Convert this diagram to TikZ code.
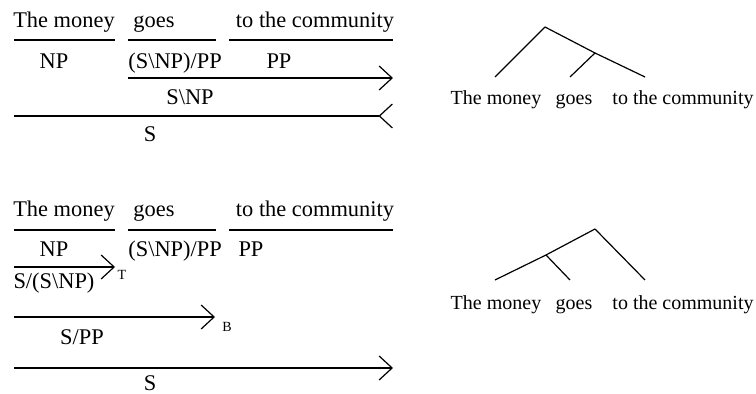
\documentclass[tikz,border=0pt]{standalone}
\usepackage{fontspec}
\setmainfont{Liberation Serif}
\usetikzlibrary{arrows.meta}
\tikzset{
  lex/.style={inner sep=0pt,font=\fontsize{11.2}{13}\selectfont},
  rul/.style={line width=0.6pt},
  fapp/.style={rul,-{Straight Barb[length=6.5pt,width=12pt]}},
  bapp/.style={rul,-{Straight Barb[reversed,length=6.5pt,width=12pt]}},
  comb/.style={inner sep=0pt,font=\fontsize{7}{8}\selectfont},
  leaf/.style={inner sep=0pt,anchor=base,font=\fontsize{10}{12}\selectfont},
  branch/.style={line width=0.6pt}
}
\begin{document}
\begin{tikzpicture}[x=0.5pt,y=-0.5pt]
\useasboundingbox (0,0) rectangle (756,394);
% first derivation: application only
\node[lex,anchor=base] (themoney1) at (64,28) {The money};
\node[lex,anchor=base] (goes1) at (154,28) {goes};
\node[lex,anchor=base] (tothecomm1) at (315,28) {to the community};
\coordinate (r1a) at (14,40); \coordinate (r1b) at (115,40);
\coordinate (r1c) at (128,40); \coordinate (r1d) at (216,40);
\coordinate (r1e) at (229,40); \coordinate (r1f) at (393,40);
\node[lex,anchor=base] (np1) at (54,69) {NP};
\node[lex,anchor=base west] (goescat1) at (128,69) {(S\textbackslash NP)/PP};
\node[lex,anchor=base] (pp1) at (279,69) {PP};
\coordinate (a1a) at (128,78); \coordinate (a1b) at (393,78);
\node[lex] (snp1) at (190,97) {S\textbackslash NP};
\coordinate (a2a) at (14,116); \coordinate (a2b) at (393,116);
\node[lex] (s1) at (150,134) {S};

\draw[rul] (r1a) -- (r1b); \draw[rul] (r1c) -- (r1d); \draw[rul] (r1e) -- (r1f);
\draw[fapp] (a1a) -- (a1b); \draw[bapp] (a2a) -- (a2b);

% first tree
\coordinate (root1) at (545,27);
\coordinate (vp1) at (595,53);
\node[leaf] (lt1) at (496,105) {The money};
\node[leaf] (lg1) at (574,105) {goes};
\node[leaf] (lc1) at (683,105) {to the community};
\coordinate (e1a) at (495,77); \coordinate (e1b) at (570,77); \coordinate (e1c) at (645,77);
\draw[branch] (root1) -- (e1a); \draw[branch] (root1) -- (vp1) -- (e1c); \draw[branch] (vp1) -- (e1b);

% second derivation: type raising and composition
\node[lex,anchor=base] (themoney2) at (64,217) {The money};
\node[lex,anchor=base] (goes2) at (154,217) {goes};
\node[lex,anchor=base] (tothecomm2) at (315,217) {to the community};
\coordinate (r2a) at (14,230); \coordinate (r2b) at (115,230);
\coordinate (r2c) at (128,230); \coordinate (r2d) at (216,230);
\coordinate (r2e) at (229,230); \coordinate (r2f) at (393,230);
\node[lex,anchor=base] (np2) at (54,257) {NP};
\node[lex,anchor=base west] (goescat2) at (128,257) {(S\textbackslash NP)/PP};
\node[lex,anchor=base] (pp2) at (251,257) {PP};
\coordinate (t2a) at (14,267); \coordinate (t2b) at (115,267);
\node[comb] (tlab) at (122,275) {T};
\node[lex] (sraise) at (54,283) {S/(S\textbackslash NP)};
\coordinate (b2a) at (14,317); \coordinate (b2b) at (215,317);
\node[comb] (blab) at (227,327) {B};
\node[lex] (spp) at (82,337) {S/PP};
\coordinate (f2a) at (14,368); \coordinate (f2b) at (393,368);
\node[lex] (s2) at (150,383) {S};

\draw[rul] (r2a) -- (r2b); \draw[rul] (r2c) -- (r2d); \draw[rul] (r2e) -- (r2f);
\draw[fapp] (t2a) -- (t2b); \draw[fapp] (b2a) -- (b2b); \draw[fapp] (f2a) -- (f2b);

% second tree
\coordinate (root2) at (595,229);
\coordinate (sp2) at (546,255);
\node[leaf] (lt2) at (496,310) {The money};
\node[leaf] (lg2) at (574,310) {goes};
\node[leaf] (lc2) at (683,310) {to the community};
\coordinate (e2a) at (495,280); \coordinate (e2b) at (570,280); \coordinate (e2c) at (645,280);
\draw[branch] (root2) -- (sp2) -- (e2a); \draw[branch] (sp2) -- (e2b); \draw[branch] (root2) -- (e2c);
\end{tikzpicture}
\end{document}
